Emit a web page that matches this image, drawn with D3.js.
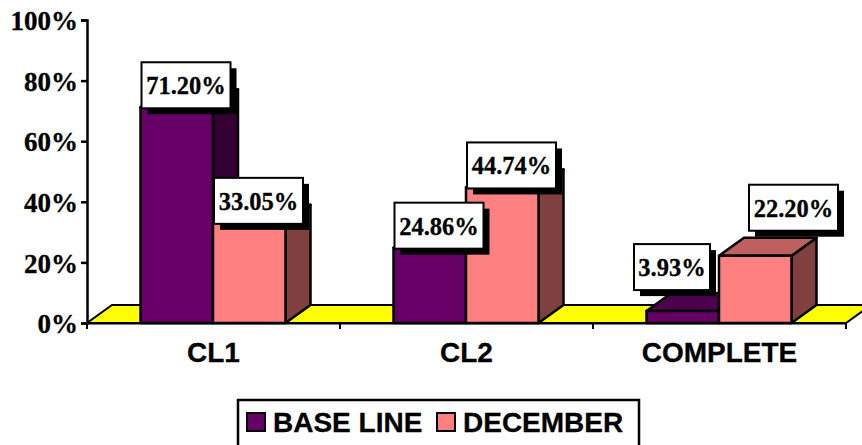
<!DOCTYPE html>
<html>
<head>
<meta charset="utf-8">
<script src="https://cdn.jsdelivr.net/npm/d3@7"></script>
<style>
  html, body { margin: 0; padding: 0; background: #fff; overflow: hidden; }
  svg { display: block; }
  .serif { font-family: "Liberation Serif", serif; font-weight: bold; fill: #000; stroke: #000; stroke-width: 0.3px; }
  .sans { font-family: "Liberation Sans", sans-serif; font-weight: bold; fill: #000; stroke: #000; stroke-width: 0.3px; }
</style>
</head>
<body>
<script>
// data
const categories = ['CL1', 'CL2', 'COMPLETE'];
const seriesNames = ['BASE LINE', 'DECEMBER'];
const baseLine = [71.20, 24.86, 3.93];
const december = [33.05, 44.74, 22.20];
const yTicks = [0, 20, 40, 60, 80, 100];

/////// LAYOUT ///////////////////////////////////////

const width = 862, height = 445;
const depth = { x: 25, y: -18 };
const seriesValues = [baseLine, december];
const frontColors = ['#660066', '#ff8080'];
const topColors = ['#4d004d', '#bf6060'];
const sideColors = ['#330033', '#804040'];

// two labels were dragged away from their bars in the original
const labelNudge = { 'DECEMBER-COMPLETE': [29, -26], 'BASE LINE-COMPLETE': [-13.5, -22] };

const svg = d3.select('body').append('svg')
  .attr('width', width)
  .attr('height', height);

const x0 = d3.scaleBand().domain(categories).range([87, 846]);
const x1 = d3.scaleBand().domain(seriesNames).range([53.5, 198.5]);
const y = d3.scaleLinear().domain([0, 100]).range([323, 20]);

/////// FLOOR ///////////////////////////////////////

let floor = [
  [87, y(0)],
  [846, y(0)],
  [846 + depth.x, y(0) + depth.y],
  [87 + depth.x, y(0) + depth.y]
];
svg.append('polygon')
  .attr('points', floor.join(' '))
  .attr('fill', '#ffff00')
  .attr('stroke', '#000')
  .attr('stroke-width', 2);

/////// AXES ///////////////////////////////////////

let yAxis = svg.append('g')
  .attr('transform', 'translate(87,0)')
  .call(d3.axisLeft(y).tickValues(yTicks).tickSize(6).tickPadding(3).tickFormat(d => d + '%'));
yAxis.selectAll('text').attr('class', 'serif').style('font-size', '27px').attr('dy', '0.36em');
yAxis.selectAll('line, path').attr('stroke', '#000').attr('stroke-width', 2.5);

let xAxis = svg.append('g')
  .attr('transform', `translate(0,${y(0)})`)
  .call(d3.axisBottom(x0).tickSize(0).tickPadding(19));
xAxis.select('path').attr('stroke', '#000').attr('stroke-width', 2);
xAxis.selectAll('text').attr('class', 'sans').style('font-size', '28px').attr('dy', '0.71em');
xAxis.selectAll('.divider')
  .data(d3.range(categories.length + 1))
  .enter().append('line')
    .attr('class', 'divider')
    .attr('x1', i => x0.range()[0] + i * x0.step())
    .attr('x2', i => x0.range()[0] + i * x0.step())
    .attr('y2', 6)
    .attr('stroke', '#000')
    .attr('stroke-width', 2);

/////// BARS ///////////////////////////////////////

let drawBar = function(cat, i, s) {
  let left = x0(cat) + x1(seriesNames[s]);
  let right = left + x1.bandwidth();
  let top = y(seriesValues[s][i]);
  let bottom = y(0);
  let g = svg.append('g')
    .attr('stroke', '#000')
    .attr('stroke-width', 2.5)
    .attr('stroke-linejoin', 'round');

  // side
  g.append('polygon')
    .attr('points', [[right, top], [right + depth.x, top + depth.y], [right + depth.x, bottom + depth.y], [right, bottom]].join(' '))
    .attr('fill', sideColors[s]);
  // top
  g.append('polygon')
    .attr('points', [[left, top], [left + depth.x, top + depth.y], [right + depth.x, top + depth.y], [right, top]].join(' '))
    .attr('fill', topColors[s]);
  // front
  g.append('rect')
    .attr('x', left)
    .attr('y', top)
    .attr('width', x1.bandwidth())
    .attr('height', bottom - top)
    .attr('fill', frontColors[s]);
};

categories.forEach((cat, i) => {
  seriesNames.forEach((name, s) => drawBar(cat, i, s));
});

/////// LABELS ///////////////////////////////////////

let drawLabel = function(cat, i, s) {
  let value = seriesValues[s][i];
  let text = value.toFixed(2) + '%';
  let w = text.length === 5 ? 76 : 89;
  let h = 46;
  let nudge = labelNudge[seriesNames[s] + '-' + cat] || [0, 0];
  let left = x0(cat) + x1(seriesNames[s]) + 1 + nudge[0];
  let bottom = y(value) + 1 + nudge[1];

  svg.append('rect')
    .attr('x', left + 6)
    .attr('y', bottom - h + 6)
    .attr('width', w)
    .attr('height', h)
    .attr('fill', '#000');
  svg.append('rect')
    .attr('x', left)
    .attr('y', bottom - h)
    .attr('width', w)
    .attr('height', h)
    .attr('fill', '#fff')
    .attr('stroke', '#000')
    .attr('stroke-width', 2);
  svg.append('text')
    .attr('class', 'serif')
    .attr('x', left + w / 2)
    .attr('y', bottom - 14)
    .attr('text-anchor', 'middle')
    .style('font-size', '24.5px')
    .text(text);
};

categories.forEach((cat, i) => {
  seriesNames.forEach((name, s) => drawLabel(cat, i, s));
});

/////// LEGEND ///////////////////////////////////////

svg.append('path')
  .attr('d', 'M238,446V400H639V446')
  .attr('fill', '#fff')
  .attr('stroke', '#000')
  .attr('stroke-width', 2.5);

let legendX = [247, 437];
seriesNames.forEach((name, s) => {
  svg.append('rect')
    .attr('x', legendX[s])
    .attr('y', 413)
    .attr('width', 18)
    .attr('height', 18)
    .attr('fill', frontColors[s])
    .attr('stroke', '#000')
    .attr('stroke-width', 2);
  svg.append('text')
    .attr('class', 'sans')
    .attr('x', legendX[s] + 26)
    .attr('y', 432)
    .style('font-size', '28px')
    .text(name);
});
</script>
</body>
</html>
